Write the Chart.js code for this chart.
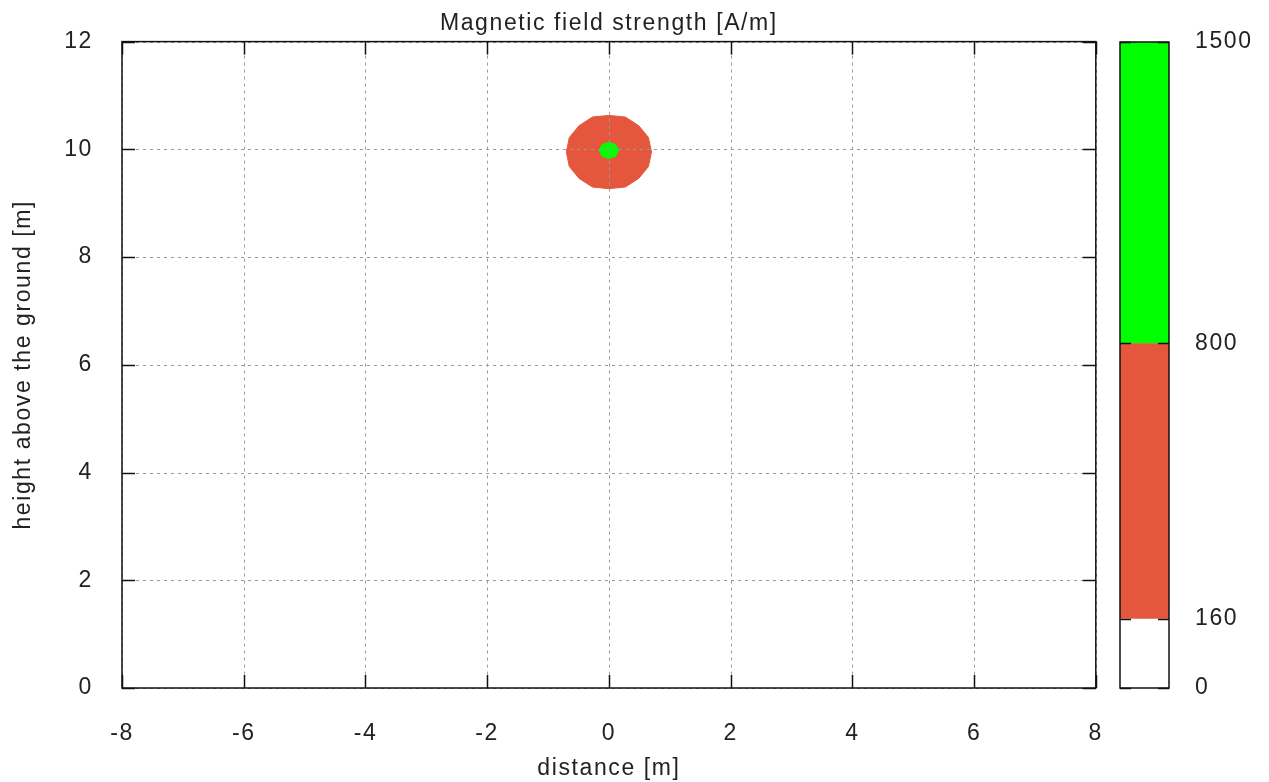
<!DOCTYPE html>
<html>
<head>
<meta charset="utf-8">
<script src="https://cdn.jsdelivr.net/npm/chart.js@4/dist/chart.umd.min.js"></script>
<style>
  html, body { margin: 0; padding: 0; background: #fff; }
  #main { position: absolute; left: 0; top: 0; width: 1127px; height: 782px; }
  #bar { position: absolute; left: 1100px; top: 0; width: 169px; height: 782px; }
</style>
</head>
<body>
<div id="main"><canvas id="fieldChart"></canvas></div>
<div id="bar"><canvas id="scaleChart"></canvas></div>
<script>
// axes
var xTicks = [-8, -6, -4, -2, 0, 2, 4, 6, 8];
var yTicks = [0, 2, 4, 6, 8, 10, 12];

// outline of the 160..800 A/m region
var redX = [0.70, 0.65, 0.49, 0.27, 0.00, -0.27, -0.49, -0.65, -0.70, -0.65, -0.49, -0.27, 0.00, 0.27, 0.49, 0.65, 0.70];
var redY = [9.95, 10.22, 10.44, 10.60, 10.63, 10.60, 10.44, 10.22, 9.95, 9.68, 9.46, 9.30, 9.27, 9.30, 9.46, 9.68, 9.95];

// outline of the > 800 A/m region
var greenX = [0.16, 0.11, 0.00, -0.11, -0.16, -0.11, 0.00, 0.11, 0.16];
var greenY = [9.98, 10.09, 10.13, 10.09, 9.98, 9.87, 9.83, 9.87, 9.98];

// colour bar
var levels = [0, 160, 800, 1500];
var levelColors = ['#ffffff', '#e5573c', '#00ff00'];

var FONT = '"Liberation Sans", Arial, sans-serif';
var TXT = '#222222';

function pts(xs, ys) {
  return xs.map(function (x, i) { return { x: x, y: ys[i] }; });
}

// gnuplot text is a bit wider than Liberation Sans
var spacingPlugin = {
  id: 'spacing',
  beforeUpdate: function (chart) { chart.ctx.letterSpacing = '1.6px'; },
  beforeLayout: function (chart) { chart.ctx.letterSpacing = '1.6px'; },
  beforeDraw: function (chart) { chart.ctx.letterSpacing = '1.6px'; }
};

// gnuplot style grid on top, frame and inward ticks
var framePlugin = {
  id: 'frame',
  afterDatasetsDraw: function (chart) {
    var ctx = chart.ctx, a = chart.chartArea;
    var sx = chart.scales.x, sy = chart.scales.y;
    ctx.save();
    ctx.strokeStyle = '#9a9a9a';
    ctx.lineWidth = 1;
    ctx.setLineDash([3, 4]);
    xTicks.forEach(function (v) {
      var px = Math.round(sx.getPixelForValue(v)) + 0.5;
      ctx.beginPath(); ctx.moveTo(px, a.top); ctx.lineTo(px, a.bottom); ctx.stroke();
    });
    yTicks.forEach(function (v) {
      var py = Math.round(sy.getPixelForValue(v)) + 0.5;
      ctx.beginPath(); ctx.moveTo(a.left, py); ctx.lineTo(a.right, py); ctx.stroke();
    });
    ctx.setLineDash([]);
    ctx.strokeStyle = '#111';
    ctx.lineWidth = 1.5;
    var tl = 13;
    xTicks.forEach(function (v) {
      var px = Math.round(sx.getPixelForValue(v)) + 0.5;
      ctx.beginPath(); ctx.moveTo(px, a.bottom); ctx.lineTo(px, a.bottom - tl); ctx.stroke();
      ctx.beginPath(); ctx.moveTo(px, a.top); ctx.lineTo(px, a.top + tl); ctx.stroke();
    });
    yTicks.forEach(function (v) {
      var py = Math.round(sy.getPixelForValue(v)) + 0.5;
      ctx.beginPath(); ctx.moveTo(a.left, py); ctx.lineTo(a.left + tl, py); ctx.stroke();
      ctx.beginPath(); ctx.moveTo(a.right, py); ctx.lineTo(a.right - tl, py); ctx.stroke();
    });
    ctx.strokeRect(a.left, a.top, a.right - a.left, a.bottom - a.top);
    ctx.restore();
  }
};

new Chart(document.getElementById('fieldChart'), {
  type: 'scatter',
  data: {
    datasets: [
      { data: pts(greenX, greenY), showLine: true, fill: 'shape', backgroundColor: levelColors[2],
        borderColor: levelColors[2], borderWidth: 1, pointRadius: 0, order: 1 },
      { data: pts(redX, redY), showLine: true, fill: 'shape', backgroundColor: levelColors[1],
        borderColor: levelColors[1], borderWidth: 1, pointRadius: 0, order: 2 }
    ]
  },
  options: {
    responsive: true,
    maintainAspectRatio: false,
    animation: false,
    layout: { padding: { top: 4, right: 14, bottom: 0, left: 0 } },
    plugins: {
      legend: { display: false },
      tooltip: { enabled: false },
      title: {
        display: true,
        fullSize: false,
        text: 'Magnetic field strength [A/m]',
        color: TXT,
        font: { family: FONT, size: 23, weight: 'normal' },
        padding: { top: 6, bottom: 4 }
      }
    },
    scales: {
      x: {
        type: 'linear', min: -8, max: 8,
        afterBuildTicks: function (s) { s.ticks = xTicks.map(function (v) { return { value: v }; }); },
        afterFit: function (s) { s.height = 94; },
        grid: { display: false },
        border: { display: false },
        ticks: { color: TXT, font: { family: FONT, size: 23 }, padding: 24, maxRotation: 0 },
        title: { display: true, text: 'distance [m]', color: TXT, font: { family: FONT, size: 23 }, padding: { top: 0, bottom: 0 } }
      },
      y: {
        type: 'linear', min: 0, max: 12,
        afterBuildTicks: function (s) { s.ticks = yTicks.map(function (v) { return { value: v }; }); },
        afterFit: function (s) { s.width = 122; },
        grid: { display: false },
        border: { display: false },
        ticks: { color: TXT, font: { family: FONT, size: 23 }, padding: 21 },
        title: { display: true, text: 'height above the ground [m]', color: TXT, font: { family: FONT, size: 23 }, padding: { top: 10, bottom: 0 } }
      }
    }
  },
  plugins: [spacingPlugin, framePlugin]
});

// colour bar frame and little ticks at each level
var barFramePlugin = {
  id: 'barFrame',
  afterDatasetsDraw: function (chart) {
    var ctx = chart.ctx, a = chart.chartArea, sy = chart.scales.y;
    ctx.save();
    ctx.strokeStyle = '#111';
    ctx.lineWidth = 1.5;
    levels.forEach(function (v) {
      var py = Math.round(sy.getPixelForValue(v)) + 0.5;
      ctx.beginPath(); ctx.moveTo(a.left, py); ctx.lineTo(a.left + 11, py); ctx.stroke();
      ctx.beginPath(); ctx.moveTo(a.right, py); ctx.lineTo(a.right - 11, py); ctx.stroke();
    });
    ctx.strokeRect(a.left, a.top, a.right - a.left, a.bottom - a.top);
    ctx.restore();
  }
};

new Chart(document.getElementById('scaleChart'), {
  type: 'bar',
  data: {
    labels: [''],
    datasets: levelColors.map(function (c, i) {
      return { data: [[levels[i], levels[i + 1]]], backgroundColor: c, borderWidth: 0,
               grouped: false, barPercentage: 1, categoryPercentage: 1 };
    })
  },
  options: {
    responsive: true,
    maintainAspectRatio: false,
    animation: false,
    layout: { padding: { top: 42, right: 0, bottom: 94, left: 20 } },
    plugins: { legend: { display: false }, tooltip: { enabled: false } },
    scales: {
      x: { display: false },
      y: {
        position: 'right', min: 0, max: 1500,
        afterBuildTicks: function (s) { s.ticks = levels.map(function (v) { return { value: v }; }); },
        afterFit: function (s) { s.width = 100; },
        grid: { display: false },
        border: { display: false },
        ticks: { color: TXT, font: { family: FONT, size: 23 }, padding: 18,
                 callback: function (v) { return String(v); } }
      }
    }
  },
  plugins: [spacingPlugin, barFramePlugin]
});
</script>
</body>
</html>
